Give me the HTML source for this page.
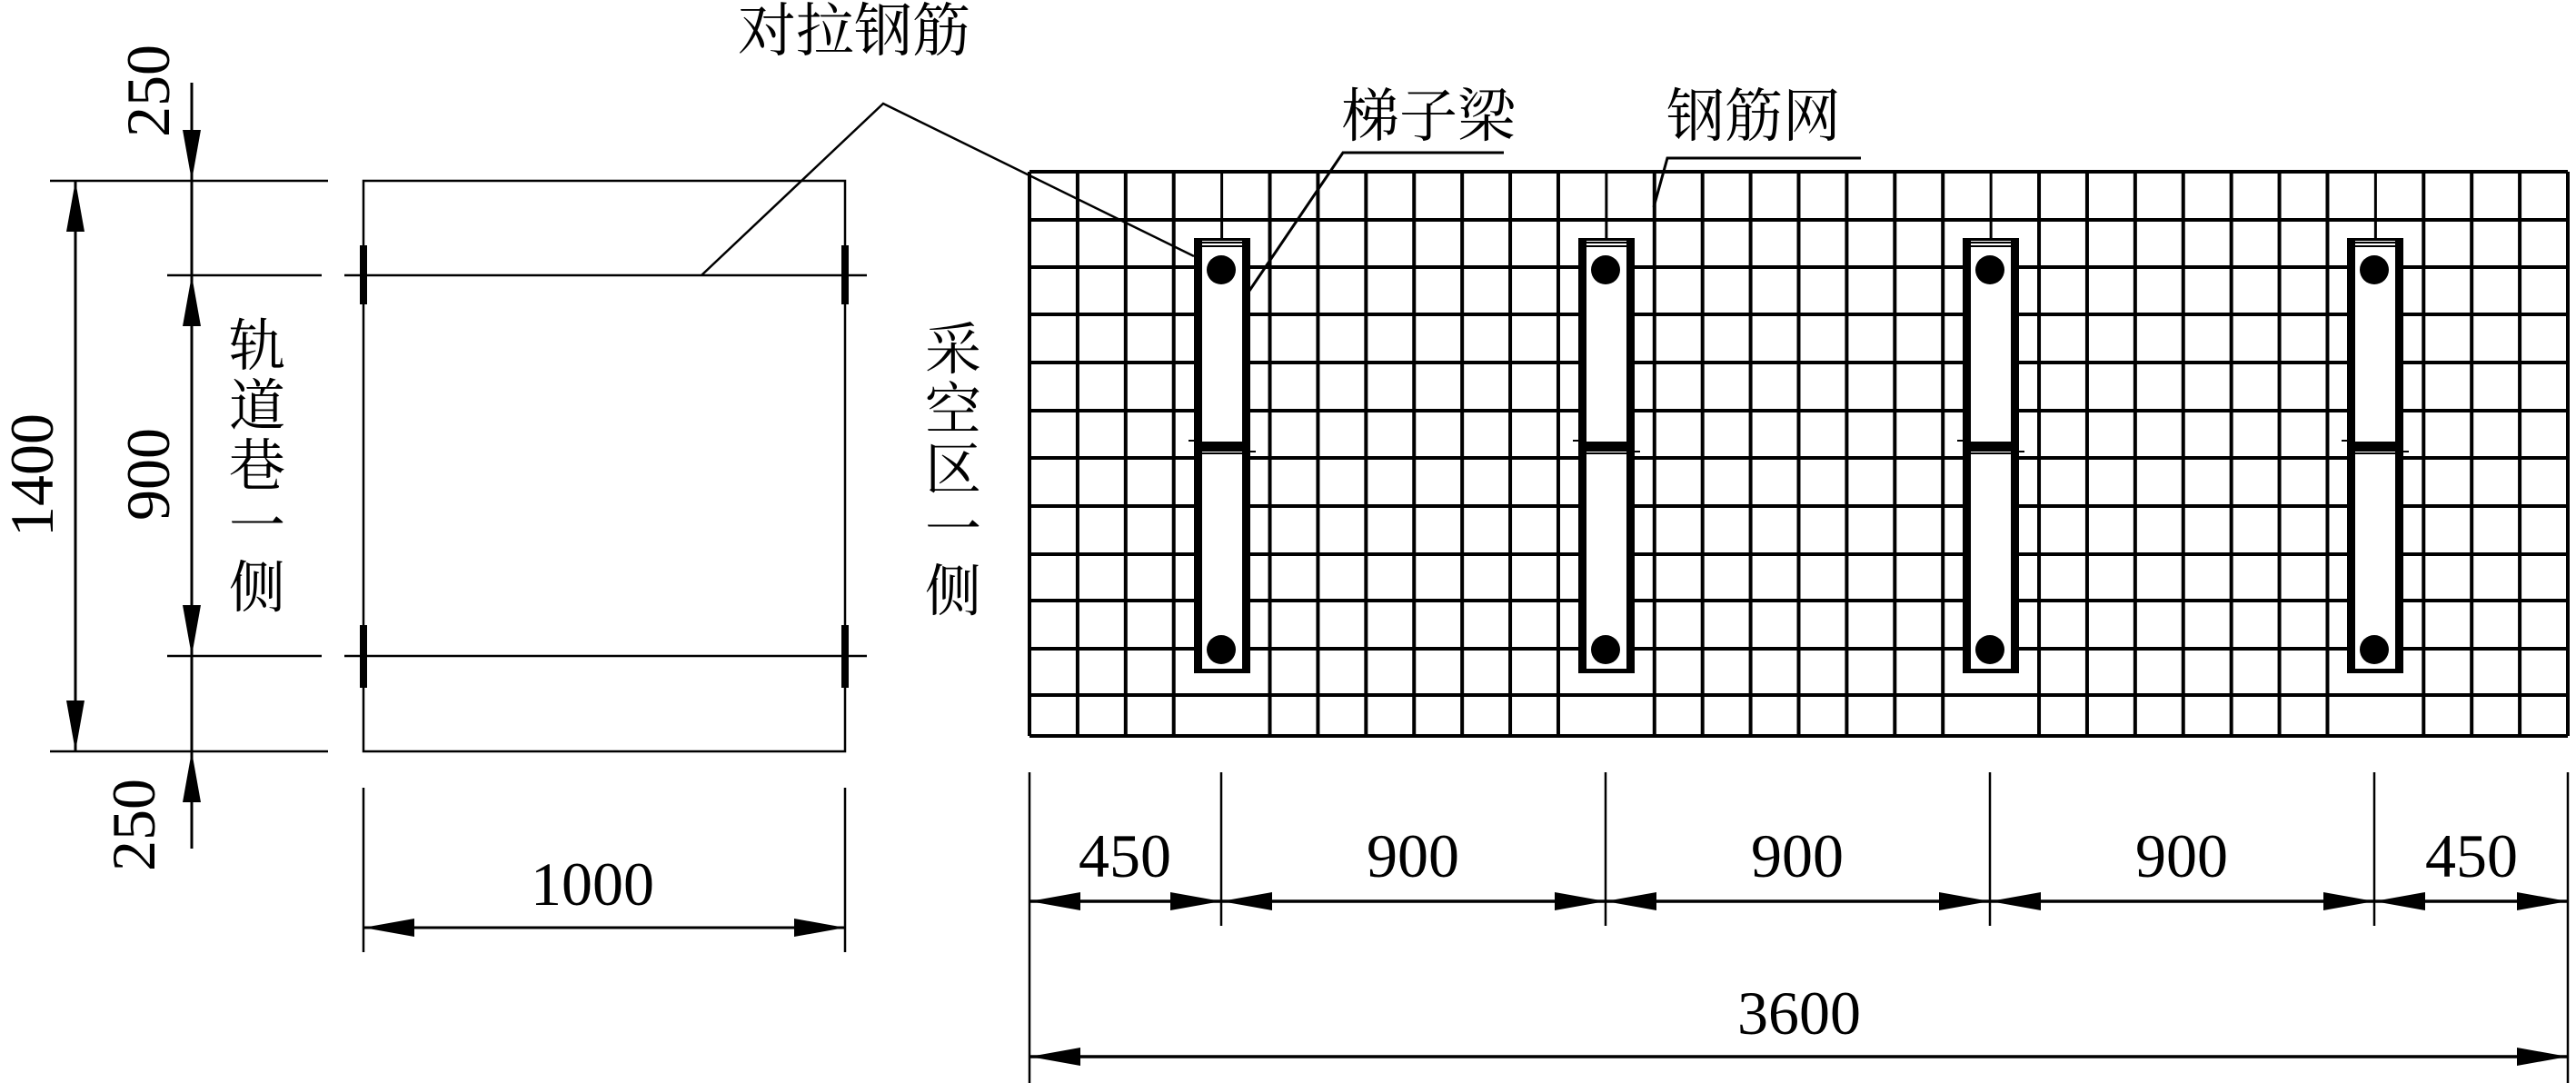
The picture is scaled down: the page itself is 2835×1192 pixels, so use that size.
<!DOCTYPE html>
<html><head><meta charset="utf-8"><style>
html,body{margin:0;padding:0;background:#fff}
svg{display:block}
.t{font-family:"Liberation Serif","Noto Serif CJK SC",serif;font-size:68px;fill:#000}
.c{font-family:"Liberation Serif","Noto Serif CJK SC",serif;font-size:62px;fill:#000}
</style></head><body>
<svg width="2835" height="1192" viewBox="0 0 2835 1192" xmlns="http://www.w3.org/2000/svg">
<defs>
<marker id="a" viewBox="0 0 56 20" refX="56" refY="10" markerWidth="56" markerHeight="20" markerUnits="userSpaceOnUse" orient="auto-start-reverse"><path d="M0,0 L56,10 L0,20 Z" fill="#000"/></marker>
</defs>
<g stroke="#000" stroke-width="2.5" fill="none">
<!-- left section -->
<rect x="400" y="199" width="530" height="628"/>
<line x1="55" y1="199" x2="361" y2="199"/>
<line x1="55" y1="827" x2="361" y2="827"/>
<line x1="184" y1="303" x2="354" y2="303"/>
<line x1="184" y1="722" x2="354" y2="722"/>
<line x1="379" y1="303" x2="954" y2="303"/>
<line x1="379" y1="722" x2="954" y2="722"/>
<line x1="83" y1="199" x2="83" y2="827" stroke-width="3" marker-start="url(#a)" marker-end="url(#a)"/>
<line x1="211" y1="91" x2="211" y2="199" stroke-width="3" marker-end="url(#a)"/>
<line x1="211" y1="199" x2="211" y2="303" stroke-width="3"/>
<line x1="211" y1="303" x2="211" y2="722" stroke-width="3" marker-start="url(#a)" marker-end="url(#a)"/>
<line x1="211" y1="722" x2="211" y2="827" stroke-width="3"/>
<line x1="211" y1="934" x2="211" y2="827" stroke-width="3" marker-end="url(#a)"/>
<line x1="400" y1="867" x2="400" y2="1048"/>
<line x1="930" y1="867" x2="930" y2="1048"/>
<line x1="400" y1="1021" x2="930" y2="1021" stroke-width="3" marker-start="url(#a)" marker-end="url(#a)"/>
<!-- leaders -->
<polyline points="772,303 972,114 1314,282"/>
<polyline points="1375,320 1478,168 1655,168" stroke-width="3"/>
<polyline points="1820,228 1835,174 2048,174" stroke-width="3"/>
</g>
<g fill="#000">
<rect x="396" y="270" width="8" height="65"/><rect x="926" y="270" width="8" height="65"/>
<rect x="396" y="688" width="8" height="69"/><rect x="926" y="688" width="8" height="69"/>
</g>
<!-- grid -->
<g stroke="#000" stroke-width="4" fill="none" id="grid"></g>
<g id="beams"></g>
<!-- bottom dims -->
<g stroke="#000" stroke-width="2.5" fill="none">
<line x1="1133" y1="850" x2="1133" y2="1192"/>
<line x1="2826" y1="850" x2="2826" y2="1192"/>
<line x1="1344" y1="850" x2="1344" y2="1019"/>
<line x1="1767" y1="850" x2="1767" y2="1019"/>
<line x1="2190" y1="850" x2="2190" y2="1019"/>
<line x1="2613" y1="850" x2="2613" y2="1019"/>
<g stroke-width="3.5">
<line x1="1133" y1="992" x2="1344" y2="992" marker-start="url(#a)" marker-end="url(#a)"/>
<line x1="1344" y1="992" x2="1767" y2="992" marker-start="url(#a)" marker-end="url(#a)"/>
<line x1="1767" y1="992" x2="2190" y2="992" marker-start="url(#a)" marker-end="url(#a)"/>
<line x1="2190" y1="992" x2="2613" y2="992" marker-start="url(#a)" marker-end="url(#a)"/>
<line x1="2613" y1="992" x2="2826" y2="992" marker-start="url(#a)" marker-end="url(#a)"/>
<line x1="1133" y1="1163" x2="2826" y2="1163" marker-start="url(#a)" marker-end="url(#a)"/>
</g>
</g>
<!-- text -->
<g class="t" text-anchor="middle">
<text x="1238" y="965">450</text>
<text x="1555" y="965">900</text>
<text x="1978" y="965">900</text>
<text x="2401" y="965">900</text>
<text x="2720" y="965">450</text>
<text x="1980" y="1138">3600</text>
<text x="652" y="996">1000</text>
<text transform="translate(186,100) rotate(-90)">250</text>
<text transform="translate(170,908) rotate(-90)">250</text>
<text transform="translate(186,522) rotate(-90)">900</text>
<text transform="translate(58,523) rotate(-90)">1400</text>
</g>
<g class="c" text-anchor="middle">
<text x="940" y="56" font-size="64">对拉钢筋</text>
<text x="1572" y="150" font-size="64">梯子梁</text>
<text x="1930" y="150" font-size="64">钢筋网</text>
<text x="283" y="402">轨</text><text x="283" y="468">道</text><text x="283" y="534">巷</text><text x="283" y="600">一</text><text x="283" y="668">侧</text>
<text x="1049" y="406">采</text><text x="1049" y="472">空</text><text x="1049" y="538">区</text><text x="1049" y="604">一</text><text x="1049" y="672">侧</text>
</g>
<script>
(function(){
var ns="http://www.w3.org/2000/svg",g=document.getElementById("grid"),b=document.getElementById("beams");
var X0=1133,X1=2826,dx=(X1-X0)/32,rows=[189,242,294,346,399,452,504,557,610,661,714,765,810];
function L(x1,y1,x2,y2,p,w){var l=document.createElementNS(ns,"line");l.setAttribute("x1",x1);l.setAttribute("y1",y1);l.setAttribute("x2",x2);l.setAttribute("y2",y2);if(w)l.setAttribute("stroke-width",w);p.appendChild(l);}
function R(x,y,w,h){var r=document.createElementNS(ns,"rect");r.setAttribute("x",x);r.setAttribute("y",y);r.setAttribute("width",w);r.setAttribute("height",h);r.setAttribute("fill","#000");b.appendChild(r);}
rows.forEach(function(y){L(X0,y,X1,y,g);});
for(var i=0;i<=32;i++){var x=X0+i*dx;if(i==4||i==12||i==20||i==28){L(x,189,x,263,g,3);}else L(x,189,x,810,g);}
[1344,1767,2190,2613].forEach(function(c){
 var l=c-30;
 var w=document.createElementNS(ns,"rect");w.setAttribute("x",l);w.setAttribute("y",262);w.setAttribute("width",62);w.setAttribute("height",479);w.setAttribute("fill","#fff");b.appendChild(w);
 R(l,262,9,479);R(l+53,262,9,479);R(l,262,62,3);R(l,736,62,5);
 R(l+9,266,44,2);R(l+9,270,44,2);
 R(l+9,486,44,11);R(l+9,498,44,2);R(l-6,484,15,2);R(l+53,496,15,2);
 [297,715].forEach(function(cy){var e=document.createElementNS(ns,"ellipse");e.setAttribute("cx",c);e.setAttribute("cy",cy);e.setAttribute("rx",16);e.setAttribute("ry",16);e.setAttribute("fill","#000");b.appendChild(e);});
});
})();
</script>
</svg>
</body></html>
